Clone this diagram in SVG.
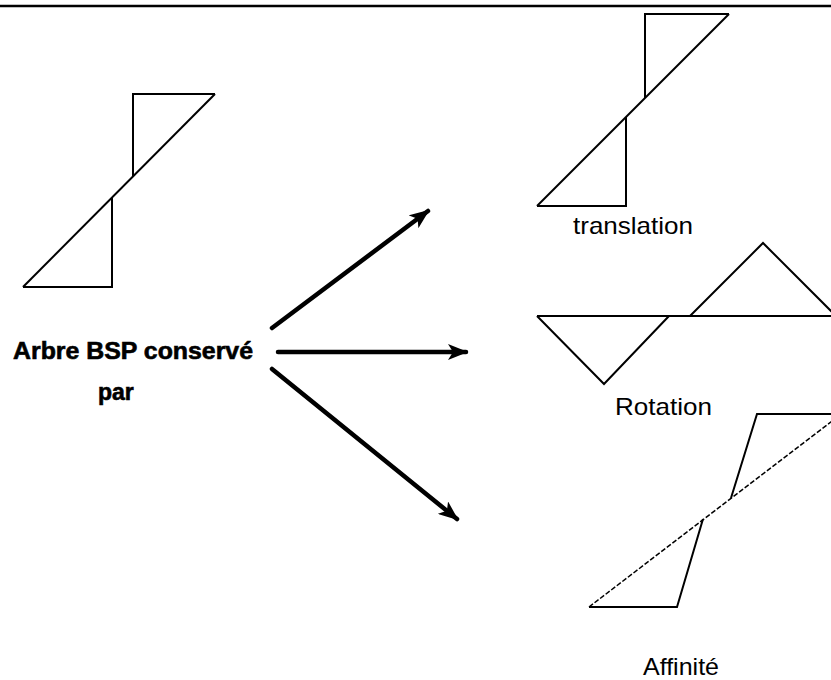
<svg xmlns="http://www.w3.org/2000/svg" width="831" height="680" viewBox="0 0 831 680">
<style>
.shape{fill:none;stroke:#000;stroke-width:2;stroke-linejoin:miter}
.dash{fill:none;stroke:#000;stroke-width:1.5;stroke-dasharray:5,2}
.lbl{font-family:"Liberation Sans",Arial,sans-serif;font-size:24px;fill:#000}
.bold{font-family:"Liberation Sans",Arial,sans-serif;font-size:23px;font-weight:bold;fill:#000;stroke:#000;stroke-width:0.6}
.arrow{fill:none;stroke:#000;stroke-width:4.5;stroke-linecap:round}
</style>
<defs>
<marker id="ah" viewBox="0 0 20 16" refX="18" refY="8" markerWidth="20" markerHeight="16" markerUnits="userSpaceOnUse" orient="auto">
<path d="M0,0 L20,8 L0,16 L5,8 z" fill="#000"/>
</marker>
</defs>
<rect x="0" y="0" width="831" height="680" fill="#fff"/>
<line x1="0" y1="6" x2="831" y2="6" stroke="#000" stroke-width="2.5"/>

<g id="original">
<line class="shape" x1="23" y1="287" x2="215" y2="94"/>
<polyline class="shape" points="133,177 133,94 215,94"/>
<polyline class="shape" points="112,198 112,287 23,287"/>
</g>

<g id="source-label">
<text class="bold" x="13" y="359" textLength="240" lengthAdjust="spacingAndGlyphs">Arbre BSP conservé</text>
<text class="bold" x="98" y="400">par</text>
</g>

<g id="translation">
<line class="shape" x1="537" y1="206" x2="729" y2="14"/>
<polyline class="shape" points="645,98 645,14 729,14"/>
<polyline class="shape" points="626,117 626,206 537,206"/>
<text class="lbl" x="573" y="234" textLength="120" lengthAdjust="spacingAndGlyphs">translation</text>
</g>

<g id="rotation">
<line class="shape" x1="537" y1="316" x2="835" y2="316"/>
<polyline class="shape" points="537,316 604,384 669,316"/>
<polyline class="shape" points="690,316 763,243 837,317"/>
<text class="lbl" x="615" y="415" textLength="97" lengthAdjust="spacingAndGlyphs">Rotation</text>
</g>

<g id="affinite">
<line class="dash" x1="589" y1="607" x2="840" y2="415"/>
<polyline class="shape" points="589,607 677,607 703,519"/>
<polyline class="shape" points="731,498 757,414 840,414"/>
<text class="lbl" x="643" y="675" textLength="76" lengthAdjust="spacingAndGlyphs">Affinité</text>
</g>

<g id="connectors">
<line class="arrow" x1="272" y1="328" x2="428" y2="211" marker-end="url(#ah)"/>
<line class="arrow" x1="278" y1="352" x2="466" y2="352" marker-end="url(#ah)"/>
<line class="arrow" x1="272" y1="369" x2="457" y2="519" marker-end="url(#ah)"/>
</g>
</svg>
